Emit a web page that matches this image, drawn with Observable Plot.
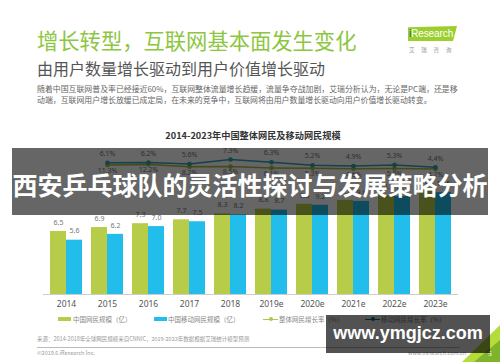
<!DOCTYPE html>
<html><head><meta charset="utf-8">
<script src="https://cdn.jsdelivr.net/npm/d3@7"></script>
<script src="https://cdn.jsdelivr.net/npm/@observablehq/plot@0.6"></script>
<style>
body{margin:0;background:#fff;}
#slide{position:relative;width:500px;height:362px;overflow:hidden;background:#fff;font-family:"Noto Sans CJK SC","Noto Sans",sans-serif;}
.abs{position:absolute;white-space:nowrap;line-height:1;}
#chart{position:absolute;left:0;top:0;width:500px;height:362px;}
.sw{position:absolute;height:4px;width:13px;}
.lg{position:absolute;font-size:6.5px;color:#888;line-height:1;white-space:nowrap;}
.ln{position:absolute;height:1.5px;width:15px;}
.ld{position:absolute;width:4px;height:4px;border-radius:50%;}
</style></head><body>
<div id="slide">
  <div id="chart"></div>
  <div class="abs" style="left:37px;top:29px;font-size:21.3px;color:#8dc63f;">增长转型，互联网基本面发生变化</div>
  <div class="abs" style="left:408px;top:26px;width:49px;height:15px;background:#9bcf2e;clip-path:polygon(0 8%,100% 0,92% 100%,0 100%);"></div>
  <div class="abs" style="left:409px;top:29px;font-family:'Liberation Sans',sans-serif;font-size:10px;color:#fff;letter-spacing:-0.1px;"><span style="color:#1d4f91">i</span>Research</div>
  <div class="abs" style="left:409px;top:47.5px;font-size:5.5px;color:#999;letter-spacing:6.8px;">艾瑞咨询</div>
  <div class="abs" style="left:37px;top:59.5px;font-size:16px;color:#555;">由用户数量增长驱动到用户价值增长驱动</div>
  <div class="abs" style="left:37px;top:85px;font-size:7.9px;color:#666;">随着中国互联网普及率已经接近60%，互联网整体流量增长趋缓，流量争夺战加剧，艾瑞分析认为，无论是PC端，还是移</div>
  <div class="abs" style="left:37px;top:96px;font-size:7.9px;color:#666;">动端，互联网用户增长放缓已成定局，在未来的竞争中，互联网将由用户数量增长驱动向用户价值增长驱动转变。</div>
  <div class="abs" style="left:0;width:506px;top:130.5px;text-align:center;font-size:9.2px;font-weight:700;color:#333;">2014-2023年中国整体网民及移动网民规模</div>

  <div class="sw" style="left:58px;top:317px;background:#b7cc48;"></div>
  <div class="lg" style="left:73px;top:315.5px;">中国网民规模（亿）</div>
  <div class="sw" style="left:154px;top:317px;background:#22bdea;"></div>
  <div class="lg" style="left:168px;top:315.5px;">中国移动网民规模（亿）</div>
  <div class="ln" style="left:263px;top:318.5px;background:#a8c94f;"></div>
  <div class="ld" style="left:268.5px;top:317.3px;background:#a8c94f;"></div>
  <div class="lg" style="left:279px;top:315.5px;">整体网民增长率（%）</div>
  <div class="ln" style="left:365px;top:318.5px;background:#1f6f7f;"></div>
  <div class="ld" style="left:370.5px;top:317.3px;background:#1f6f7f;"></div>
  <div class="lg" style="left:381px;top:315.5px;">移动网民增长率（%）</div>

  <div class="abs" style="left:37px;top:336.5px;font-size:5.5px;color:#999;">来源：2014-2018年全球网民规模来自CNNIC，2019-2023年数据根据艾瑞统计模型预测</div>
  <div class="abs" style="left:37px;top:347px;width:423px;height:0;border-top:0.7px solid #bbb;"></div>
  <div class="abs" style="left:37px;top:350.5px;font-size:5.5px;color:#999;">©2019.6 iResearch Inc.</div>
  <div class="abs" style="left:408px;top:350.5px;font-size:5.5px;color:#999;">www.iresearch.com.cn</div>
  <div class="abs" style="left:460px;top:325px;width:40px;height:37px;background:#b6dc3c;clip-path:polygon(100% 0,100% 100%,5% 100%);"></div>
  <div class="abs" style="left:474px;top:340px;width:26px;height:22px;background:#7fb32a;clip-path:polygon(100% 0,100% 100%,0 100%);"></div>
  <div class="abs" style="left:488px;top:350px;font-size:7px;color:#fff;">5</div>

  <div class="abs" style="left:12px;top:148px;width:476px;height:67px;background:rgba(0,0,0,0.6);"></div>
  <div class="abs" style="left:12px;top:172px;width:476px;text-align:center;font-size:25px;font-weight:700;color:#fff;">西安乒乓球队的灵活性探讨与发展策略分析</div>
  <div class="abs" style="left:326px;top:315px;width:164px;height:38px;background:rgba(0,0,0,0.68);"></div>
  <div class="abs" style="left:326px;top:324px;width:164px;text-align:center;font-family:'Liberation Sans',sans-serif;font-size:18px;font-weight:700;color:#fff;">www.ymgjcz.com</div>
</div>
<script>
const years = ["2014","2015","2016","2017","2018","2019e","2020e","2021e","2022e","2023e"];
const totalUsers = [6.5,6.9,7.3,7.7,8.3,8.8,9.3,9.7,10.2,10.7];
const mobileUsers = [5.6,6.2,7.0,7.5,8.2,8.7,9.2,9.6,10.1,10.5];
const rateYears = ["2015","2016","2017","2018","2019e","2020e","2021e","2022e","2023e"];
const totalRate = [6.1,6.2,5.6,7.3,6.3,5.2,4.9,5.3,4.4];
const mobileRate = [11.3,12.2,8.2,8.5,6.1,5.3,4.6,5.0,4.2];

const bars = years.map((y,i)=>({year:y,total:totalUsers[i],mobile:mobileUsers[i]}));
const rates = rateYears.map((y,i)=>({year:y,total:totalRate[i],mobile:mobileRate[i]}));
// the rate lines sit in a narrow band above the bars (secondary axis)
const tealY = d => 13.47 + (d.total - 5.7) * 0.278;
const oliveY = d => 12.94 + (d.mobile - 4.2) * 0.0575;
const teal = "#2aa5b5", olive = "#a5b83a";

const chart = Plot.plot({
  width:500, height:362, marginTop:100, marginBottom:68, marginLeft:43, marginRight:42,
  style:{background:"transparent", fontFamily:"'Noto Sans','Noto Sans CJK SC',sans-serif"},
  x:{type:"band", domain:years, paddingInner:0.23, paddingOuter:0.115, axis:null},
  y:{domain:[0,20], axis:null},
  marks:[
    Plot.barY(bars,{x:"year", y:"total", fill:"#b7cc48", insetRight:16}),
    Plot.barY(bars,{x:"year", y:"mobile", fill:"#22bdea", insetLeft:16}),
    Plot.ruleY([0],{stroke:"#ccc", strokeWidth:1}),
    Plot.text(bars,{x:"year", y:"total", text:d=>d.total.toFixed(1), dx:-8, dy:-9, fontSize:7, fill:"#777"}),
    Plot.text(bars,{x:"year", y:"mobile", text:d=>d.mobile.toFixed(1), dx:8, dy:-9, fontSize:7, fill:"#777"}),
    Plot.text(bars,{x:"year", y:()=>0, text:"year", dy:10, fontSize:8.5, fill:"#555"}),
    Plot.line(rates,{x:"year", y:oliveY, stroke:olive, strokeWidth:1.5}),
    Plot.dot(rates,{x:"year", y:oliveY, r:2.3, fill:olive}),
    Plot.text(rates,{x:"year", y:oliveY, text:d=>d.mobile.toFixed(1)+"%", dy:5.5, fontSize:7, fill:"#777"}),
    Plot.line(rates,{x:"year", y:tealY, stroke:teal, strokeWidth:1.5}),
    Plot.dot(rates,{x:"year", y:tealY, r:2.3, fill:teal}),
    Plot.text(rates,{x:"year", y:tealY, text:d=>d.total.toFixed(1)+"%", dy:-9, fontSize:7, fill:"#777"})
  ]
});
document.getElementById("chart").appendChild(chart);
</script>
</body></html>
